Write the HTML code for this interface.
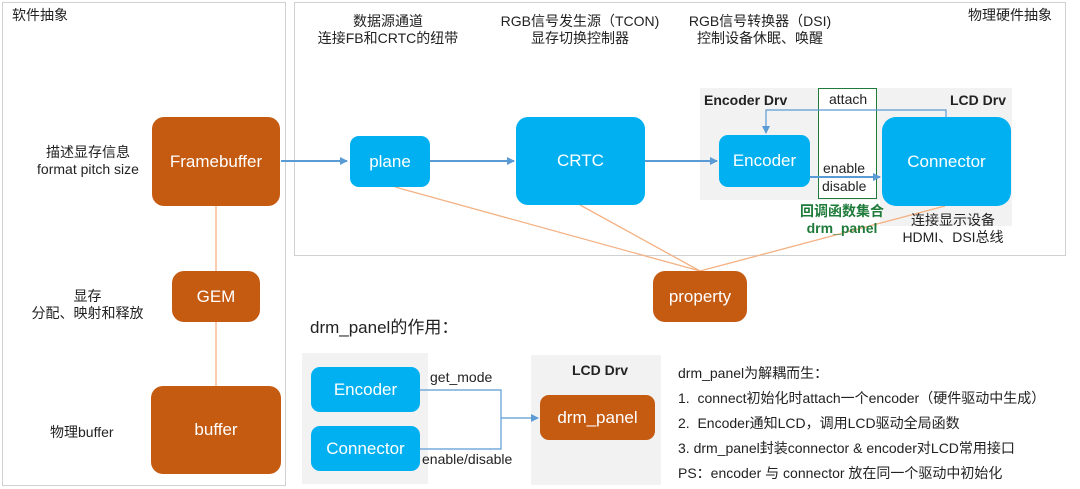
<!DOCTYPE html>
<html><head><meta charset="utf-8"><style>
body{margin:0;width:1080px;height:489px;background:#fff;position:relative;overflow:hidden;font-family:"Liberation Sans","Noto Sans CJK SC",sans-serif;color:#222}
.a{position:absolute}
.n{position:absolute;display:flex;align-items:center;justify-content:center;color:#fff;font-size:17px;border-radius:12px}
.o{background:#C55A11}.b{background:#00B0F0}
.t{position:absolute;font-size:14px;text-align:center;line-height:17px;white-space:nowrap}
.g{position:absolute;background:#f2f2f2}
</style></head><body>
<div class="a" style="left:2px;top:2px;width:282px;height:482px;border:1px solid #d0d0d0"></div>
<div class="a" style="left:294px;top:2px;width:770px;height:252px;border:1px solid #d0d0d0"></div>
<div class="g" style="left:700px;top:88px;width:312px;height:112px"></div>
<div class="g" style="left:880px;top:200px;width:132px;height:26px"></div>
<div class="g" style="left:302px;top:353px;width:126px;height:131px"></div>
<div class="g" style="left:531px;top:355px;width:130px;height:130px"></div>
<div class="a" style="left:818px;top:88px;width:57px;height:109px;border:1.5px solid #1e7b3a;background:#fff"></div>
<svg class="a" style="left:0;top:0" width="1080" height="489">
<defs><marker id="m" markerWidth="8" markerHeight="8" refX="7" refY="4" orient="auto" markerUnits="userSpaceOnUse"><path d="M0,0 L8,4 L0,8z" fill="#5b9bd5"/></marker></defs>
<g stroke="#F4B183" stroke-width="1.3" fill="none">
<line x1="216" y1="206" x2="216" y2="271"/><line x1="216" y1="322" x2="216" y2="386"/>
<line x1="395" y1="187" x2="700" y2="271"/><line x1="580" y1="205" x2="700" y2="271"/><line x1="945" y1="206" x2="700" y2="271"/>
</g>
<g stroke="#5b9bd5" stroke-width="2" fill="none">
<line x1="281" y1="161" x2="347" y2="161" marker-end="url(#m)"/>
<line x1="430" y1="161" x2="514" y2="161" marker-end="url(#m)"/>
<line x1="645" y1="161" x2="717" y2="161" marker-end="url(#m)"/>
<line x1="810" y1="177" x2="880" y2="177" marker-end="url(#m)"/>
</g>
<g stroke="#5b9bd5" stroke-width="1.2" fill="none">
<polyline points="946,117 946,110 766,110 766,133" marker-end="url(#m)"/>
<polyline points="420,390 501,390 501,449 420,449"/>
<line x1="501" y1="418" x2="538" y2="418" marker-end="url(#m)"/>
</g>
</svg>
<div class="n o" style="left:152px;top:117px;width:128px;height:89px">Framebuffer</div>
<div class="n o" style="left:172px;top:271px;width:88px;height:51px">GEM</div>
<div class="n o" style="left:151px;top:386px;width:130px;height:88px">buffer</div>
<div class="n b" style="left:350px;top:136px;width:80px;height:51px;border-radius:9px">plane</div>
<div class="n b" style="left:516px;top:117px;width:129px;height:88px">CRTC</div>
<div class="n b" style="left:719px;top:135px;width:91px;height:52px;border-radius:9px">Encoder</div>
<div class="n b" style="left:882px;top:117px;width:129px;height:89px;border-radius:14px">Connector</div>
<div class="n o" style="left:653px;top:271px;width:94px;height:51px">property</div>
<div class="n b" style="left:311px;top:367px;width:109px;height:45px;border-radius:9px">Encoder</div>
<div class="n b" style="left:311px;top:426px;width:109px;height:45px;border-radius:9px">Connector</div>
<div class="n o" style="left:540px;top:395px;width:115px;height:45px;border-radius:9px">drm_panel</div>
<div class="t" style="left:12px;top:7px">软件抽象</div>
<div class="t" style="left:968px;top:7px">物理硬件抽象</div>
<div class="t" style="left:303px;top:13px;width:170px">数据源通道<br>连接FB和CRTC的纽带</div>
<div class="t" style="left:490px;top:13px;width:180px">RGB信号发生源（TCON)<br>显存切换控制器</div>
<div class="t" style="left:675px;top:13px;width:170px">RGB信号转换器（DSI)<br>控制设备休眠、唤醒</div>
<div class="t" style="left:28px;top:144px;width:120px">描述显存信息<br>format pitch size</div>
<div class="t" style="left:20px;top:288px;width:135px">显存<br>分配、映射和释放</div>
<div class="t" style="left:50px;top:424px">物理buffer</div>
<div class="t" style="left:704px;top:92px;font-weight:bold">Encoder Drv</div>
<div class="t" style="left:950px;top:92px;font-weight:bold">LCD Drv</div>
<div class="t" style="left:829px;top:91px">attach</div>
<div class="t" style="left:823px;top:160px">enable</div>
<div class="t" style="left:822px;top:178px">disable</div>
<div class="t" style="left:800px;top:203px;font-weight:bold;color:#1e7b3a">回调函数集合<br>drm_panel</div>
<div class="t" style="left:893px;top:212px;width:120px">连接显示设备<br>HDMI、DSI总线</div>
<div class="t" style="left:310px;top:319px;font-size:17px">drm_panel的作用：</div>
<div class="t" style="left:430px;top:369px">get_mode</div>
<div class="t" style="left:422px;top:451px">enable/disable</div>
<div class="t" style="left:572px;top:362px;font-weight:bold">LCD Drv</div>
<div class="t" style="left:678px;top:361px;text-align:left;line-height:25px">drm_panel为解耦而生：<br>1.&nbsp; connect初始化时attach一个encoder（硬件驱动中生成）<br>2.&nbsp; Encoder通知LCD，调用LCD驱动全局函数<br>3. drm_panel封装connector &amp; encoder对LCD常用接口<br>PS：encoder 与 connector 放在同一个驱动中初始化</div>
</body></html>
